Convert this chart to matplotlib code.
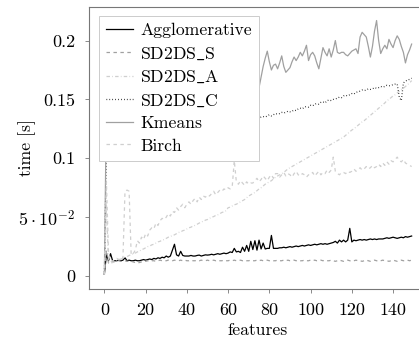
import numpy as np
import matplotlib
matplotlib.use("Agg")
import matplotlib.pyplot as plt

plt.rcParams["font.family"] = "serif"
plt.rcParams["font.serif"] = ["cmr10"]
plt.rcParams["mathtext.fontset"] = "cm"
plt.rcParams["axes.unicode_minus"] = False
plt.rcParams["lines.scale_dashes"] = False

features = np.arange(150)

agglomerative = [
    0.002, 0.018, 0.013, 0.019, 0.013, 0.013, 0.013, 0.0135, 0.013, 0.0135,
    0.0155, 0.013, 0.0135, 0.013, 0.013, 0.0135, 0.013, 0.013, 0.0135, 0.014,
    0.0135, 0.014, 0.0145, 0.014, 0.015, 0.0145, 0.0155, 0.015, 0.016, 0.0155,
    0.017, 0.016, 0.017, 0.022, 0.027, 0.018, 0.017, 0.021, 0.0175, 0.017,
    0.017, 0.017, 0.0175, 0.017, 0.017, 0.0175, 0.0178, 0.017, 0.0175, 0.018,
    0.0178, 0.018, 0.0185, 0.018, 0.0185, 0.019, 0.0185, 0.019, 0.0195, 0.019,
    0.0195, 0.0205, 0.020, 0.0235, 0.0205, 0.021, 0.020, 0.0245, 0.021, 0.026,
    0.021, 0.0295, 0.0225, 0.030, 0.022, 0.0305, 0.023, 0.028, 0.023, 0.0235,
    0.0235, 0.0345, 0.0235, 0.0235, 0.0235, 0.024, 0.024, 0.0245, 0.024, 0.0245,
    0.025, 0.0245, 0.025, 0.0255, 0.025, 0.0255, 0.026, 0.0255, 0.026, 0.0265,
    0.026, 0.0265, 0.027, 0.0265, 0.027, 0.0275, 0.027, 0.0275, 0.027, 0.0275,
    0.028, 0.0285, 0.0295, 0.028, 0.0305, 0.029, 0.0305, 0.029, 0.0305, 0.0405,
    0.029, 0.0305, 0.030, 0.0305, 0.031, 0.0305, 0.031, 0.0305, 0.031, 0.0315,
    0.031, 0.0315, 0.031, 0.0315, 0.0315, 0.0315, 0.032, 0.0325, 0.032, 0.0325,
    0.033, 0.0325, 0.032, 0.0325, 0.033, 0.0325, 0.0335, 0.033, 0.0335, 0.034,
]

sd2ds_s = [
    0.001, 0.022, 0.011, 0.0125, 0.012, 0.0125, 0.0125, 0.013, 0.0125, 0.0125,
    0.013, 0.0125, 0.013, 0.0125, 0.012, 0.0115, 0.011, 0.0115, 0.012, 0.0125,
    0.0125, 0.013, 0.0125, 0.013, 0.013, 0.0125, 0.013, 0.0135, 0.013, 0.013,
    0.013, 0.0135, 0.013, 0.013, 0.0135, 0.013, 0.013, 0.0135, 0.013, 0.0135,
    0.013, 0.013, 0.0135, 0.013, 0.013, 0.0135, 0.013, 0.0135, 0.013, 0.013,
    0.0135, 0.013, 0.013, 0.0135, 0.013, 0.0135, 0.013, 0.013, 0.0135, 0.013,
    0.013, 0.0135, 0.013, 0.0135, 0.013, 0.013, 0.0135, 0.013, 0.0135, 0.013,
    0.013, 0.0135, 0.013, 0.013, 0.0135, 0.013, 0.0135, 0.013, 0.013, 0.0135,
    0.013, 0.0135, 0.013, 0.013, 0.0135, 0.013, 0.013, 0.0135, 0.013, 0.0135,
    0.013, 0.013, 0.0135, 0.013, 0.0135, 0.013, 0.013, 0.0135, 0.013, 0.013,
    0.0135, 0.013, 0.0135, 0.013, 0.013, 0.0135, 0.013, 0.0135, 0.013, 0.013,
    0.0135, 0.013, 0.0125, 0.013, 0.0135, 0.013, 0.0125, 0.013, 0.0135, 0.013,
    0.0125, 0.013, 0.0135, 0.013, 0.013, 0.0125, 0.013, 0.0135, 0.013, 0.0125,
    0.013, 0.0135, 0.013, 0.0125, 0.013, 0.0135, 0.013, 0.013, 0.0125, 0.013,
    0.0135, 0.013, 0.0125, 0.013, 0.0135, 0.013, 0.013, 0.0135, 0.013, 0.0135,
]

sd2ds_a = [
    0.001, 0.060, 0.012, 0.011, 0.0115, 0.012, 0.013, 0.0135, 0.0145, 0.015,
    0.016, 0.0165, 0.0175, 0.018, 0.019, 0.0195, 0.0205, 0.021, 0.0225, 0.023,
    0.024, 0.025, 0.0255, 0.0265, 0.027, 0.028, 0.029, 0.0295, 0.0305, 0.031,
    0.032, 0.033, 0.0335, 0.0345, 0.035, 0.036, 0.037, 0.0375, 0.0385, 0.039,
    0.040, 0.041, 0.0415, 0.0425, 0.043, 0.044, 0.045, 0.046, 0.0465, 0.0475,
    0.048, 0.049, 0.050, 0.0505, 0.0515, 0.052, 0.053, 0.054, 0.0545, 0.0555,
    0.058, 0.0585, 0.0595, 0.0605, 0.061, 0.062, 0.063, 0.064, 0.065, 0.0665,
    0.068, 0.069, 0.070, 0.071, 0.0725, 0.074, 0.075, 0.0765, 0.078, 0.079,
    0.080, 0.081, 0.0825, 0.084, 0.085, 0.086, 0.087, 0.088, 0.0895, 0.091,
    0.092, 0.093, 0.094, 0.095, 0.096, 0.097, 0.098, 0.099, 0.100, 0.101,
    0.102, 0.103, 0.104, 0.105, 0.106, 0.107, 0.108, 0.109, 0.110, 0.111,
    0.112, 0.113, 0.114, 0.115, 0.116, 0.117, 0.118, 0.1195, 0.121, 0.1225,
    0.124, 0.125, 0.1265, 0.128, 0.1295, 0.131, 0.132, 0.1335, 0.135, 0.1365,
    0.138, 0.1395, 0.141, 0.1425, 0.144, 0.1455, 0.147, 0.149, 0.150, 0.1515,
    0.153, 0.154, 0.1555, 0.157, 0.1585, 0.1595, 0.161, 0.1625, 0.164, 0.166,
]

sd2ds_c = [
    0.001, 0.112, 0.106, 0.105, 0.106, 0.105, 0.107, 0.106, 0.107, 0.108,
    0.107, 0.108, 0.109, 0.108, 0.109, 0.110, 0.109, 0.110, 0.111, 0.110,
    0.111, 0.112, 0.111, 0.112, 0.113, 0.112, 0.113, 0.114, 0.113, 0.114,
    0.115, 0.114, 0.115, 0.116, 0.115, 0.116, 0.117, 0.116, 0.117, 0.118,
    0.117, 0.118, 0.119, 0.118, 0.119, 0.120, 0.119, 0.120, 0.121, 0.120,
    0.121, 0.122, 0.121, 0.122, 0.123, 0.122, 0.123, 0.124, 0.123, 0.124,
    0.125, 0.124, 0.125, 0.126, 0.125, 0.126, 0.127, 0.128, 0.127, 0.128,
    0.131, 0.132, 0.132, 0.133, 0.134, 0.134, 0.135, 0.1355, 0.135, 0.136,
    0.137, 0.136, 0.137, 0.138, 0.1375, 0.138, 0.139, 0.1385, 0.139, 0.140,
    0.1395, 0.140, 0.141, 0.1405, 0.142, 0.1425, 0.142, 0.1435, 0.144, 0.1435,
    0.145, 0.1445, 0.146, 0.1465, 0.146, 0.1475, 0.148, 0.147, 0.149, 0.1495,
    0.149, 0.150, 0.1505, 0.151, 0.152, 0.1515, 0.153, 0.1535, 0.153, 0.154,
    0.155, 0.1545, 0.156, 0.1565, 0.157, 0.158, 0.1575, 0.158, 0.159, 0.1585,
    0.159, 0.160, 0.1595, 0.160, 0.161, 0.1605, 0.161, 0.162, 0.1615, 0.162,
    0.1625, 0.163, 0.163, 0.152, 0.149, 0.164, 0.1655, 0.1665, 0.167, 0.168,
]

kmeans = [
    0.002, 0.145, 0.150, 0.148, 0.152, 0.149, 0.153, 0.150, 0.155, 0.151,
    0.156, 0.152, 0.158, 0.154, 0.157, 0.160, 0.155, 0.159, 0.157, 0.161,
    0.158, 0.162, 0.159, 0.163, 0.160, 0.164, 0.161, 0.158, 0.163, 0.165,
    0.162, 0.166, 0.163, 0.167, 0.164, 0.168, 0.165, 0.162, 0.167, 0.169,
    0.166, 0.170, 0.167, 0.171, 0.168, 0.165, 0.170, 0.172, 0.169, 0.173,
    0.170, 0.174, 0.171, 0.168, 0.173, 0.175, 0.172, 0.176, 0.173, 0.170,
    0.175, 0.177, 0.174, 0.178, 0.175, 0.172, 0.177, 0.179, 0.176, 0.173,
    0.178, 0.175, 0.172, 0.176, 0.170, 0.160, 0.169, 0.178, 0.185, 0.191,
    0.182, 0.175, 0.179, 0.180, 0.176, 0.181, 0.187, 0.178, 0.173, 0.175,
    0.177, 0.182, 0.186, 0.183, 0.186, 0.190, 0.187, 0.191, 0.196, 0.183,
    0.188, 0.190, 0.187, 0.181, 0.176, 0.185, 0.194, 0.190, 0.187, 0.193,
    0.186, 0.192, 0.200, 0.190, 0.189, 0.190, 0.190, 0.188, 0.187, 0.189,
    0.191, 0.192, 0.193, 0.189, 0.203, 0.207, 0.205, 0.203, 0.195, 0.186,
    0.195, 0.208, 0.217, 0.200, 0.189, 0.193, 0.196, 0.193, 0.201, 0.197,
    0.194, 0.200, 0.204, 0.201, 0.195, 0.190, 0.181, 0.188, 0.192, 0.197,
]

birch = [
    0.001, 0.080, 0.020, 0.012, 0.013, 0.0135, 0.015, 0.014, 0.016, 0.015,
    0.072, 0.073, 0.072, 0.018, 0.019, 0.022, 0.030, 0.028, 0.033, 0.031,
    0.036, 0.034, 0.039, 0.041, 0.040, 0.045, 0.043, 0.047, 0.049, 0.048,
    0.050, 0.053, 0.051, 0.055, 0.054, 0.058, 0.056, 0.059, 0.061, 0.058,
    0.061, 0.063, 0.061, 0.064, 0.066, 0.063, 0.067, 0.065, 0.068, 0.067,
    0.069, 0.068, 0.070, 0.072, 0.069, 0.071, 0.073, 0.072, 0.074, 0.073,
    0.075, 0.074, 0.076, 0.098, 0.080, 0.078, 0.081, 0.079, 0.077, 0.080,
    0.078, 0.079, 0.079, 0.081, 0.083, 0.080, 0.082, 0.085, 0.083, 0.081,
    0.084, 0.086, 0.083, 0.087, 0.087, 0.084, 0.086, 0.088, 0.085, 0.087,
    0.086, 0.084, 0.087, 0.089, 0.086, 0.085, 0.087, 0.086, 0.084, 0.086,
    0.086, 0.088, 0.085, 0.087, 0.089, 0.086, 0.088, 0.087, 0.090, 0.088,
    0.090, 0.101, 0.089, 0.087, 0.086, 0.088, 0.088, 0.087, 0.089, 0.088,
    0.089, 0.091, 0.089, 0.090, 0.092, 0.090, 0.091, 0.093, 0.091, 0.092,
    0.094, 0.092, 0.093, 0.095, 0.093, 0.096, 0.094, 0.097, 0.095, 0.098,
    0.097, 0.099, 0.101, 0.098, 0.097, 0.099, 0.096, 0.095, 0.094, 0.093,
]

y_ticks = [0, 0.05, 0.1, 0.15, 0.2]
y_tick_labels = ["0", r"$5\cdot10^{-2}$", "0.1", "0.15", "0.2"]
x_ticks = [0, 20, 40, 60, 80, 100, 120, 140]

TICK_FS = 13
TEXT_FS = 12.7

fig = plt.figure(figsize=(4.19, 3.39), dpi=100)
# the right edge of the frame runs past the canvas
ax = fig.add_axes([89 / 419, 50 / 339, 338 / 419, 282 / 339])

dashed = [2.5, 2.5]
dotted = [0.5, 1.6]
dashdot = [2.5, 1.6, 0.5, 1.6]

ax.plot(features, agglomerative, color="black", lw=0.9, label="Agglomerative")
ax.plot(features, sd2ds_s, color="#a0a0a0", lw=0.9, dashes=dashed, label=r"SD2DS$\_$S")
ax.plot(features, sd2ds_a, color="#cfcfcf", lw=0.9, dashes=dashdot, label=r"SD2DS$\_$A")
ax.plot(features, sd2ds_c, color="black", lw=0.9, dashes=dotted, label=r"SD2DS$\_$C")
ax.plot(features, kmeans, color="#a0a0a0", lw=0.9, label="Kmeans")
ax.plot(features, birch, color="#cfcfcf", lw=0.9, dashes=dashed, label="Birch")

ax.set_xlim(-7.45, 156.45)
ax.set_ylim(-0.011, 0.2285)
ax.set_xticks(x_ticks)
ax.set_yticks(y_ticks)
ax.set_yticklabels(y_tick_labels)
ax.tick_params(direction="out", length=3, width=0.6, color="#777777",
               labelsize=TICK_FS, pad=7, top=False, right=False)
for s in ax.spines.values():
    s.set_color("#777777")
    s.set_linewidth(0.8)

ax.set_xlabel("features", fontsize=TEXT_FS, va="center")
ax.set_ylabel("time [s]", fontsize=TEXT_FS, va="center")
ax.xaxis.set_label_coords(0.5, (289 - 330) / 282)
ax.yaxis.set_label_coords((27 - 89) / 338, 0.5)

leg = ax.legend(loc="upper left", bbox_to_anchor=(0.0296, 0.968), borderaxespad=0,
                fontsize=TEXT_FS, fancybox=False, framealpha=1, edgecolor="#cccccc",
                handlelength=1.53, handletextpad=0.4, labelspacing=0.40,
                borderpad=0.40)
leg.get_frame().set_linewidth(0.7)

fig.savefig("out.png", dpi=100)
